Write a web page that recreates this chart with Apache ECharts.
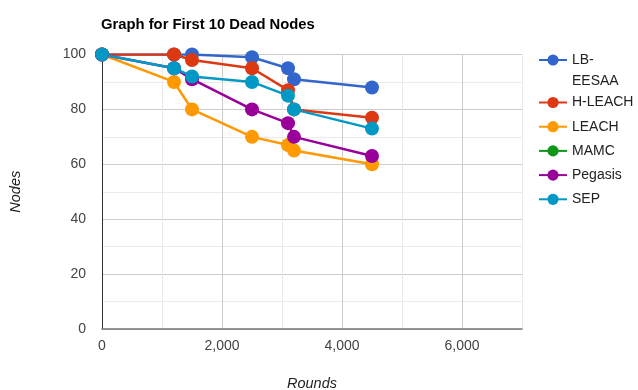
<!DOCTYPE html>
<html>
<head>
<meta charset="utf-8">
<script src="https://cdn.jsdelivr.net/npm/echarts@6/dist/echarts.min.js"></script>
<style>
html,body{margin:0;padding:0;background:#fff;}
#c{width:638px;height:390px;}
</style>
</head>
<body>
<div id="c"></div>
<script>
const rounds = [0, 1200, 1500, 2500, 3100, 3200, 4500];
const lbEesaa = [100, 100, 100, 99, 95, 91, 88];
const hLeach = [100, 100, 98, 95, 87, 80, 77];
const leach = [100, 90, 80, 70, 67, 65, 60];
const mamc = [];
const pegasis = [100, 95, 91, 80, 75, 70, 63];
const sep = [100, 95, 92, 90, 85, 80, 73];
const seriesNames = ['LB-EESAA', 'H-LEACH', 'LEACH', 'MAMC', 'Pegasis', 'SEP'];
const seriesValues = [lbEesaa, hLeach, leach, mamc, pegasis, sep];
const colors = ['#3366cc', '#dc3912', '#ff9900', '#109618', '#990099', '#0099c6'];

const FONT = '"Liberation Sans", Arial, sans-serif';

const chart = echarts.init(document.getElementById('c'), null, {renderer: 'canvas'});

const series = seriesNames.map((name, i) => ({
  name: name,
  type: 'line',
  data: seriesValues[i].map((v, j) => [rounds[j], v]),
  symbol: 'circle',
  symbolSize: 14,
  showSymbol: true,
  lineStyle: {width: 2.5, color: colors[i]},
  itemStyle: {color: colors[i]},
  emphasis: {disabled: true},
  animation: false
}));

const legendText = {fontFamily: FONT, fontSize: 14, color: '#222'};

chart.setOption({
  animation: false,
  color: colors,
  title: {
    text: 'Graph for First 10 Dead Nodes',
    left: 96,
    top: 12,
    textStyle: {fontFamily: FONT, fontSize: 14.8, fontWeight: 'bold', color: '#000'}
  },
  legend: [
    {
      data: ['LB-EESAA'],
      orient: 'vertical',
      left: 538,
      top: 28.5,
      padding: 0,
      itemWidth: 28,
      itemHeight: 14,
      formatter: () => '\nLB-\nEESAA',
      textStyle: Object.assign({}, legendText, {lineHeight: 21}),
      selectedMode: false
    },
    {
      data: ['H-LEACH', 'LEACH', 'MAMC', 'Pegasis', 'SEP'],
      orient: 'vertical',
      left: 538,
      top: 95.5,
      padding: 0,
      itemWidth: 28,
      itemHeight: 14,
      itemGap: 10.2,
      textStyle: Object.assign({}, legendText, {lineHeight: 14}),
      selectedMode: false
    }
  ],
  grid: {left: 102, right: 116, top: 54.5, bottom: 61, containLabel: false, outerBoundsMode: 'none'},
  xAxis: {
    type: 'value',
    min: 0,
    max: 7000,
    interval: 1000,
    name: 'Rounds',
    nameLocation: 'middle',
    nameGap: 47.5,
    nameTextStyle: {fontFamily: FONT, fontSize: 14.5, fontStyle: 'italic', color: '#222'},
    axisLine: {show: true, onZero: false, lineStyle: {color: '#777', width: 1.5}},
    axisTick: {show: false},
    axisLabel: {
      margin: 10,
      fontFamily: FONT, fontSize: 14, color: '#444',
      formatter: v => (v % 2000 === 0 ? v.toLocaleString('en-US') : '')
    },
    splitLine: {show: true, lineStyle: {color: ['#cccccc', '#ebebeb'], width: 1}}
  },
  yAxis: {
    type: 'value',
    min: 0,
    max: 100,
    interval: 10,
    name: 'Nodes',
    nameLocation: 'middle',
    nameGap: 79,
    nameTextStyle: {fontFamily: FONT, fontSize: 14.5, fontStyle: 'italic', color: '#222'},
    axisLine: {show: true, onZero: false, lineStyle: {color: '#333', width: 1}},
    axisTick: {show: false},
    axisLabel: {
      margin: 16,
      fontFamily: FONT, fontSize: 14, color: '#444',
      formatter: v => (v % 20 === 0 ? String(v) : '')
    },
    splitLine: {show: true, lineStyle: {color: ['#cccccc', '#ebebeb'], width: 1}}
  },
  series: series
});
</script>
</body>
</html>
